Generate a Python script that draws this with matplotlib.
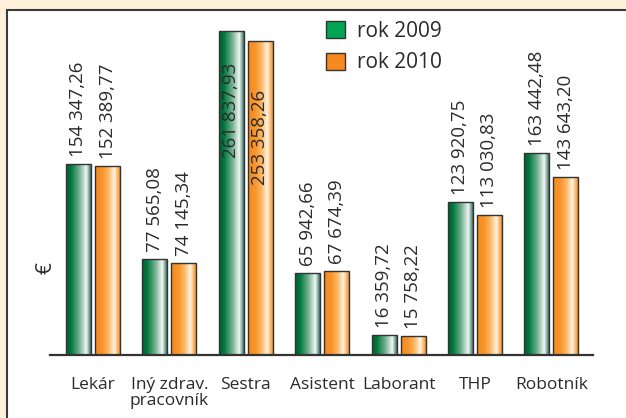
import numpy as np
import matplotlib
matplotlib.use("Agg")
import matplotlib.pyplot as plt
from matplotlib.colors import LinearSegmentedColormap
from matplotlib.patches import Patch, Rectangle

plt.rcParams['font.family'] = ['Open Sans', 'DejaVu Sans']

# data
categories = ["Lekár", "Iný zdrav.\npracovník", "Sestra", "Asistent", "Laborant", "THP", "Robotník"]
values_2009 = [154347.26, 77565.08, 261837.93, 65942.66, 16359.72, 123920.75, 163442.48]
values_2010 = [152389.77, 74145.34, 253358.26, 67674.39, 15758.22, 113030.83, 143643.20]
series_names = ["rok 2009", "rok 2010"]


def fmt(v):
    s = f"{v:,.2f}"
    return s.replace(",", " ").replace(".", ",")


green_cmap = LinearSegmentedColormap.from_list(
    "g", [(0, "#005f33"), (0.2, "#00783f"), (0.55, "#79b394"), (0.82, "#f2f8f4"), (1.0, "#3c7468")])
orange_cmap = LinearSegmentedColormap.from_list(
    "o", [(0, "#f5891c"), (0.3, "#f7962c"), (0.55, "#fbb968"), (0.78, "#fff3e4"), (1.0, "#f39326")])

fig = plt.figure(figsize=(6.26, 4.18), dpi=100)
fig.patch.set_facecolor("#fdf1dc")
# white panel with dark border on left/top
fig.patches.append(Rectangle((7 / 626, -0.1), 1.2, 0.1 + 408 / 418, transform=fig.transFigure,
                             facecolor="white", edgecolor="#3a3a3a", lw=1.5, zorder=-5))

ax = fig.add_axes([50 / 626, 63 / 418, 543 / 626, 340 / 418])
ax.set_facecolor("none")

x = np.arange(len(categories))
w = 0.327
off = 0.19
grad = np.linspace(0, 1, 64).reshape(1, -1)

for vals, cmap, sign in [(values_2009, green_cmap, -1), (values_2010, orange_cmap, 1)]:
    bars = ax.bar(x + sign * off, vals, width=w, facecolor="none", edgecolor="#333333", lw=1.0, zorder=3)
    for b, v in zip(bars, vals):
        im = ax.imshow(grad, cmap=cmap, aspect="auto", zorder=2,
                       extent=[b.get_x(), b.get_x() + b.get_width(), 0, b.get_height()])
        im.set_clip_path(b)
        cx = b.get_x() + b.get_width() / 2
        if v > 200000:
            ax.annotate(fmt(v), (cx, v), xytext=(0, -23 if sign < 0 else -35), textcoords="offset points",
                        rotation=90, ha="center", va="top", fontsize=13.5, color="#2a2a2a", zorder=4)
        else:
            ax.annotate(fmt(v), (cx, v), xytext=(0, 5), textcoords="offset points",
                        rotation=90, ha="center", va="bottom", fontsize=13.5, color="#2a2a2a", zorder=4)

ax.set_xlim(-0.563, 6.545)
ax.set_ylim(0, 274770)
for s in ["top", "right", "left"]:
    ax.spines[s].set_visible(False)
ax.spines["bottom"].set_color("#333333")
ax.spines["bottom"].set_linewidth(1.6)
ax.set_yticks([])
ax.set_xticks(x)
ax.set_xticklabels(categories, fontsize=12.5, color="#2a2a2a", va="top", linespacing=1.0)
ax.tick_params(axis="x", length=0, pad=16)
ax.set_ylabel("€", fontsize=15, color="#2a2a2a", labelpad=0)
ax.yaxis.set_label_coords(0.012, 0.255)

handles = [Patch(facecolor="#00a651", edgecolor="#333333", lw=1.0),
           Patch(facecolor="#f7891f", edgecolor="#333333", lw=1.0)]
fig.legend(handles, series_names, loc="upper left", bbox_to_anchor=(326 / 626, 1 - 21 / 418),
           frameon=False, fontsize=15, handlelength=0.9, handleheight=0.9, handletextpad=0.6,
           labelspacing=0.5, borderpad=0, borderaxespad=0, labelcolor="#2a2a2a")

fig.savefig("out.png", dpi=100, facecolor=fig.get_facecolor())
